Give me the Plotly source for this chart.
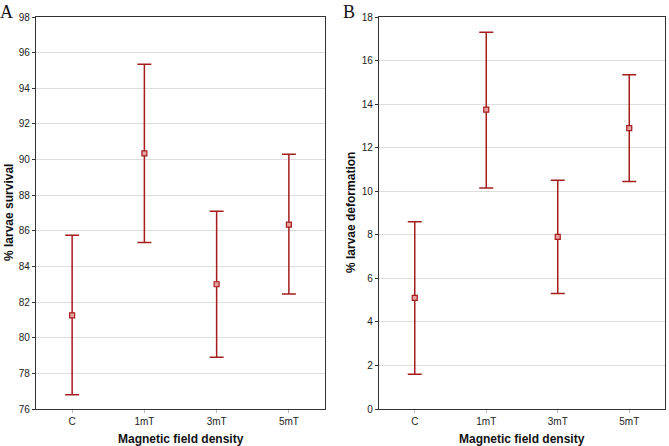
import plotly.graph_objects as go

categories = ["C", "1mT", "3mT", "5mT"]

survival_mean = [81.25, 90.35, 83.0, 86.35]
survival_upper = [85.75, 95.35, 87.1, 90.3]
survival_lower = [76.8, 85.35, 78.9, 82.45]

deform_mean = [5.1, 13.75, 7.9, 12.9]
deform_upper = [8.6, 17.3, 10.5, 15.35]
deform_lower = [1.6, 10.15, 5.3, 10.45]

red = "#a51c1c"

def trace(mean, upper, lower, xa, ya):
    return go.Scatter(
        x=categories, y=mean, mode="markers", xaxis=xa, yaxis=ya,
        marker=dict(symbol="square", size=5, color="#e8a0a0",
                    line=dict(color=red, width=1.2)),
        error_y=dict(type="data", symmetric=False,
                     array=[u - m for u, m in zip(upper, mean)],
                     arrayminus=[m - l for m, l in zip(mean, lower)],
                     color=red, thickness=1.5, width=7),
        showlegend=False, hoverinfo="skip",
    )

fig = go.Figure()
fig.add_trace(trace(survival_mean, survival_upper, survival_lower, "x", "y"))
fig.add_trace(trace(deform_mean, deform_upper, deform_lower, "x2", "y2"))

tickfont = dict(family="Liberation Sans, Arial, sans-serif", size=10, color="#222")
axcommon = dict(showline=True, linecolor="#333", linewidth=1.2, mirror=True,
                tickfont=tickfont, zeroline=False, fixedrange=True)

fig.update_layout(
    width=669, height=446,
    margin=dict(l=0, r=0, t=17, b=37),
    paper_bgcolor="white", plot_bgcolor="white",
    xaxis=dict(domain=[36/669, 325/669], range=[-0.5, 3.5], type="category",
               anchor="y", showgrid=False, ticks="outside", ticklen=3,
               tickcolor="#bbb", **axcommon),
    yaxis=dict(domain=[0, 1], range=[76, 98], dtick=2, anchor="x",
               showgrid=True, gridcolor="#dddddd", gridwidth=1,
               ticks="outside", ticklen=3, tickcolor="#333", **axcommon),
    xaxis2=dict(domain=[379/669, 665/669], range=[-0.5, 3.5], type="category",
                anchor="y2", showgrid=False, ticks="outside", ticklen=3,
                tickcolor="#bbb", **axcommon),
    yaxis2=dict(domain=[0, 1], range=[0, 18], dtick=2, anchor="x2",
                showgrid=True, gridcolor="#dddddd", gridwidth=1,
                ticks="outside", ticklen=3, tickcolor="#333", **axcommon),
)

titlefont = dict(family="Liberation Sans, Arial, sans-serif", size=12, color="#111")
labelfont = dict(family="Liberation Serif, Times New Roman, serif", size=18, color="#111")

ann = [
    dict(text="A", x=-2, y=446, xanchor="left", yanchor="top", font=labelfont),
    dict(text="B", x=341, y=446, xanchor="left", yanchor="top", font=labelfont),
    dict(text="<b>Magnetic field density</b>", x=(36 + 325) / 2, y=446 - 439, font=titlefont),
    dict(text="<b>Magnetic field density</b>", x=(379 + 665) / 2, y=446 - 439, font=titlefont),
    dict(text="<b>% larvae survival</b>", x=9, y=446 - 213, textangle=-90, font=titlefont),
    dict(text="<b>% larvae deformation</b>", x=351, y=446 - 213, textangle=-90, font=titlefont),
]
for a in ann:
    fig.add_annotation(xref="paper", yref="paper", showarrow=False,
                       x=a["x"] / 669, y=(a["y"] - 37) / 392, text=a["text"],
                       xanchor=a.get("xanchor", "center"),
                       yanchor=a.get("yanchor", "middle"),
                       textangle=a.get("textangle", 0), font=a["font"])

fig.write_html("out.html")
